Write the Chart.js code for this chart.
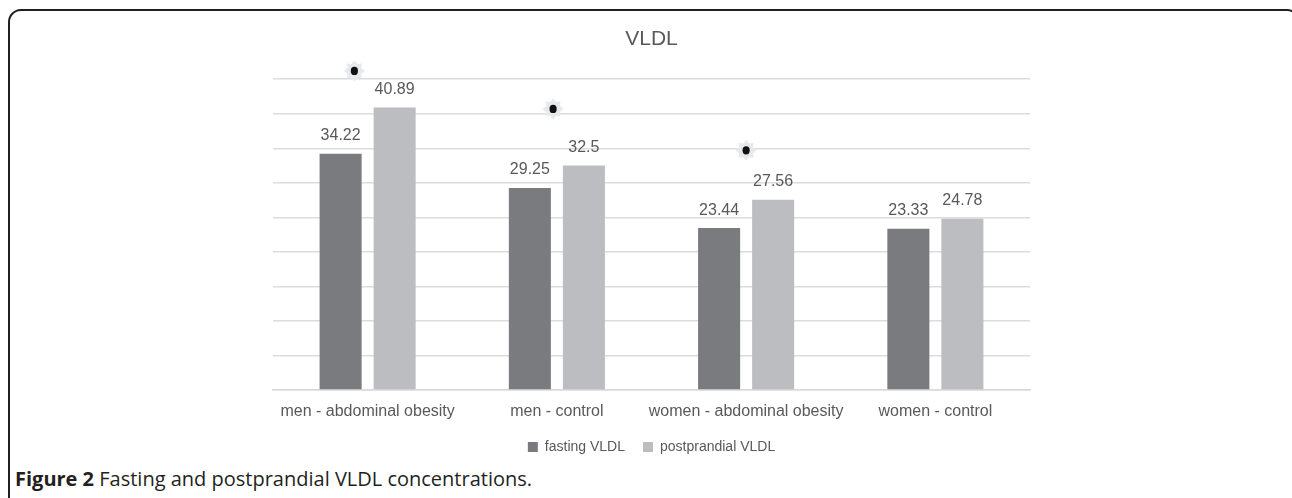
<!DOCTYPE html>
<html>
<head>
<meta charset="utf-8">
<script src="https://cdn.jsdelivr.net/npm/chart.js@4.4.1/dist/chart.umd.min.js"></script>
<style>
  html, body { margin: 0; padding: 0; background: #ffffff; }
  body { width: 1292px; height: 498px; position: relative; overflow: hidden; }
  #frame {
    position: absolute; left: 8px; top: 9px; width: 1292px; height: 540px;
    box-sizing: border-box; border: 2px solid #231f20; border-radius: 13px 13px 0 0;
  }
  #wrap { position: absolute; left: 0; top: 0; width: 1292px; height: 464px; }
  #caption {
    position: absolute; left: 15px; top: 468px; font-family: "Open Sans", sans-serif;
    font-size: 20px; color: #231f20; white-space: nowrap; line-height: 22px;
  }
  #caption b { font-weight: 700; }
</style>
</head>
<body>
<div id="frame"></div>
<div id="wrap"><canvas id="c" width="1292" height="464"></canvas></div>
<div id="caption"><b>Figure 2</b> Fasting and postprandial VLDL concentrations.</div>
<script>
// ---- data ----
const categories = ["men - abdominal obesity", "men - control", "women - abdominal obesity", "women - control"];
const fastingVLDL = [34.22, 29.25, 23.44, 23.33];
const postprandialVLDL = [40.89, 32.5, 27.56, 24.78];
const seriesNames = ["fasting VLDL", "postprandial VLDL"];
const yTicks = [0, 5, 10, 15, 20, 25, 30, 35, 40, 45];
// significance markers: category index, value height, offset within category (category units)
const starCategory = [0, 1, 2];
const starValue = [46.2, 40.7, 34.7];
const starShift = [-0.07, -0.02, 0];

const textColor = "#595959";
const fontFamily = "'Liberation Sans', Arial, sans-serif";

const valueLabels = {
  id: "valueLabels",
  afterDatasetsDraw(chart) {
    const ctx = chart.ctx;
    ctx.save();
    ctx.font = "16px " + fontFamily;
    ctx.fillStyle = textColor;
    ctx.textAlign = "center";
    ctx.textBaseline = "middle";
    chart.data.datasets.forEach((ds, di) => {
      const meta = chart.getDatasetMeta(di);
      meta.data.forEach((bar, i) => {
        ctx.fillText(String(ds.data[i]), bar.x, bar.y - 18);
      });
    });
    ctx.restore();
  }
};

const starMarkers = {
  id: "starMarkers",
  afterDatasetsDraw(chart) {
    const ctx = chart.ctx;
    const xs = chart.scales.x, ys = chart.scales.y;
    ctx.save();
    starCategory.forEach((ci, k) => {
      const x = xs.getPixelForValue(ci + starShift[k]);
      const y = ys.getPixelForValue(starValue[k]);
      ctx.beginPath();
      const n = 8, ro = 10.5, ri = 7.5;
      for (let j = 0; j < n * 2; j++) {
        const r = j % 2 === 0 ? ro : ri;
        const a = -Math.PI / 2 + j * Math.PI / n;
        const px = x + r * Math.cos(a), py = y + r * Math.sin(a);
        if (j === 0) ctx.moveTo(px, py); else ctx.lineTo(px, py);
      }
      ctx.closePath();
      ctx.fillStyle = "#e8e9ec";
      ctx.fill();
      ctx.beginPath();
      ctx.ellipse(x, y, 3.6, 4.2, 0, 0, Math.PI * 2);
      ctx.fillStyle = "#111111";
      ctx.fill();
    });
    ctx.restore();
  }
};

new Chart(document.getElementById("c"), {
  type: "bar",
  data: {
    labels: categories,
    datasets: [
      { label: seriesNames[0], data: fastingVLDL, backgroundColor: "#7a7b7f", borderWidth: 0,
        categoryPercentage: 0.571, barPercentage: 0.778 },
      { label: seriesNames[1], data: postprandialVLDL, backgroundColor: "#bcbdc1", borderWidth: 0,
        categoryPercentage: 0.571, barPercentage: 0.778 }
    ]
  },
  options: {
    responsive: false,
    animation: false,
    devicePixelRatio: 1,
    layout: { padding: { left: 273, right: 262, top: 0, bottom: 0 } },
    plugins: {
      title: {
        display: true, text: "VLDL", color: textColor,
        font: { family: fontFamily, size: 21, weight: "normal" },
        padding: { top: 27, bottom: 27 }
      },
      legend: {
        display: true, position: "bottom",
        labels: {
          color: textColor, font: { family: fontFamily, size: 14 },
          boxWidth: 10, boxHeight: 10, padding: 18
        }
      },
      tooltip: { enabled: false }
    },
    scales: {
      x: {
        afterFit(scale) { scale.height = 32; },
        grid: { display: false, drawTicks: false },
        border: { display: true, color: "#d9d9d9", width: 1.5 },
        ticks: { color: textColor, font: { family: fontFamily, size: 16 }, padding: 12,
                 maxRotation: 0, minRotation: 0, autoSkip: false }
      },
      y: {
        min: 0, max: 45,
        afterBuildTicks(scale) { scale.ticks = yTicks.map(v => ({ value: v })); },
        grid: { color: "#dcdcdc", lineWidth: 1.5, drawTicks: false },
        border: { display: false },
        ticks: { display: false }
      }
    }
  },
  plugins: [valueLabels, starMarkers]
});
</script>
</body>
</html>
